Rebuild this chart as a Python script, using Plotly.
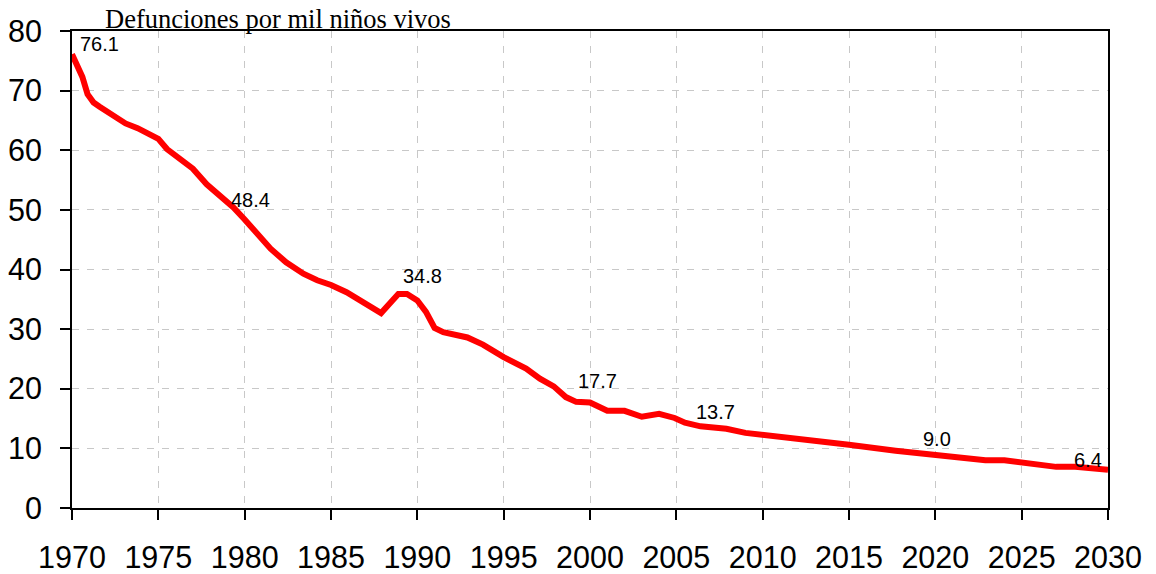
import plotly.graph_objects as go

# Data
years = [1970, 1970.3, 1970.6, 1970.9, 1971.25, 1971.6, 1972.4, 1973.1, 1973.8, 1974.4,
         1975, 1975.5, 1976.1, 1976.6, 1977, 1977.8, 1978.6, 1979.35, 1980, 1980.7,
         1981.5, 1982.4, 1983.4, 1984.2, 1985, 1985.9, 1987.1, 1987.45, 1987.9, 1988.4,
         1988.9, 1989.4, 1990, 1990.5, 1991, 1991.5, 1992.9, 1993.8, 1995, 1996.3,
         1997.1, 1997.9, 1998.6, 1999.2, 2000, 2001, 2002, 2003, 2004, 2004.9,
         2005.5, 2006.4, 2007.9, 2009, 2010, 2012.3, 2015, 2017.7, 2020, 2021.4,
         2022.9, 2024, 2025, 2027, 2028.1, 2030]
rates = [76.1, 74.1, 72.3, 69.4, 68.0, 67.3, 65.8, 64.5, 63.7, 62.8,
         61.9, 60.2, 58.9, 58.0, 56.9, 54.3, 52.4, 50.4, 48.4, 46.0,
         43.5, 41.2, 39.3, 38.2, 37.4, 36.2, 34.1, 33.4, 32.7, 34.3,
         35.9, 35.9, 34.8, 32.9, 30.2, 29.5, 28.6, 27.4, 25.3, 23.4,
         21.7, 20.4, 18.6, 17.8, 17.7, 16.3, 16.3, 15.3, 15.8, 15.1,
         14.3, 13.7, 13.3, 12.6, 12.3, 11.5, 10.6, 9.6, 9.0, 8.5,
         8.0, 8.0, 7.6, 6.9, 6.9, 6.4]

label_years = [1970, 1980, 1990, 2000, 2006.4, 2020, 2030]
label_values = [76.1, 48.4, 34.8, 17.7, 13.7, 9.0, 6.4]
label_texts = ["76.1", "48.4", "34.8", "17.7", "13.7", "9.0", "6.4"]

x_ticks = list(range(1970, 2031, 5))
y_ticks = list(range(0, 81, 10))

title_text = "Defunciones por mil niños vivos"

fig = go.Figure()
fig.add_trace(go.Scatter(
    x=years, y=rates, mode="lines",
    line=dict(color="#ff0000", width=6),
    hoverinfo="skip", showlegend=False,
))

# label placement styling (offsets in px)
xshifts = [6, 6, 5, 7, 15, 2, -20]
yshifts = [-3, 6, 12, 8, 1, 2, -3]
xanchors = ["left", "center", "center", "center", "center", "center", "center"]
for yr, v, t, dx, dy, xa in zip(label_years, label_values, label_texts, xshifts, yshifts, xanchors):
    fig.add_annotation(
        x=yr, y=v, text=t, showarrow=False,
        xanchor=xa, yanchor="bottom", xshift=dx, yshift=dy,
        font=dict(family="Liberation Sans, Arial, sans-serif", size=20, color="black"),
    )

fig.add_annotation(
    x=(103 - 72) / (1108 - 72), y=1.0, xref="paper", yref="paper",
    text=title_text, showarrow=False,
    xanchor="left", yanchor="bottom", yshift=-5,
    font=dict(family="Liberation Serif, Times New Roman, serif", size=26.5, color="black"),
)

axis_common = dict(
    showline=True, linecolor="black", linewidth=2, mirror=True,
    ticks="outside", ticklen=10, tickwidth=2, tickcolor="black",
    showgrid=True, gridcolor="#c8c8c8", gridwidth=1, griddash="7px,8px",
    zeroline=False, automargin=False,
    tickfont=dict(family="Liberation Sans, Arial, sans-serif", size=30.5, color="black"),
)

fig.update_xaxes(range=[1970, 2030], tickvals=x_ticks, ticktext=[str(v) for v in x_ticks],
                 ticklabelstandoff=11, **axis_common)
fig.update_yaxes(range=[0, 80], tickvals=y_ticks, ticklabelstandoff=12, **axis_common)

# page body has an 8px margin, so the figure is sized to fit the window
fig.update_layout(
    width=1148, height=566,
    margin=dict(l=64, r=48, t=23, b=66),
    paper_bgcolor="white", plot_bgcolor="white",
    showlegend=False,
)

fig.write_html("out.html")
